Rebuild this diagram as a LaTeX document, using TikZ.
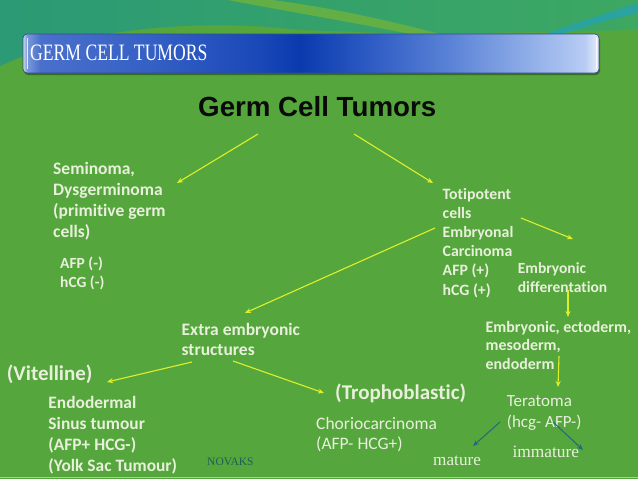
\documentclass[tikz,border=0pt]{standalone}
\usepackage{fontspec}
\setmainfont[Ligatures=NoCommon]{Carlito}
\newfontfamily\arialfont{Liberation Sans}
\newfontfamily\timesfont{Liberation Serif}
\newfontfamily\titlefont[FakeStretch=0.75]{Liberation Serif}
\usetikzlibrary{arrows.meta}
\definecolor{bggreen}{HTML}{55A63C}
\definecolor{tealL}{HTML}{2B9A75}
\definecolor{tealR}{HTML}{3DA862}
\definecolor{swoosh}{HTML}{63AF45}
\definecolor{bluestripe}{HTML}{2AA3A0}
\definecolor{txt}{HTML}{E8F0DC}
\definecolor{arrowyellow}{HTML}{DDF02A}
\definecolor{arrowteal}{HTML}{1F6A80}
\definecolor{novak}{HTML}{1D5F58}
\definecolor{tbA}{HTML}{CDD6EE}
\definecolor{tbB}{HTML}{7A98DA}
\definecolor{tbC}{HTML}{4A70CC}
\definecolor{tbD}{HTML}{3560C4}
\definecolor{tbE}{HTML}{1A48B8}
\definecolor{tbF}{HTML}{0A3AAE}
\definecolor{tbG}{HTML}{2A58C2}
\definecolor{tbH}{HTML}{5A82D6}
\definecolor{tbI}{HTML}{90AEE8}
\definecolor{tbJ}{HTML}{B8CCF4}
\definecolor{tbK}{HTML}{E8EEFA}
\pgfdeclarehorizontalshading{titlebarshade}{100bp}{color(0bp)=(tbA); color(25bp)=(tbA); color(25.35bp)=(tbB); color(26.5bp)=(tbC); color(36bp)=(tbD); color(45.5bp)=(tbE); color(49bp)=(tbF); color(54.5bp)=(tbG); color(62bp)=(tbH); color(69bp)=(tbI); color(73.75bp)=(tbJ); color(75bp)=(tbK); color(100bp)=(tbK)}
\tikzset{
  lbl/.style={anchor=base west, inner sep=0pt, text=txt, align=left},
  yarrow/.style={draw=arrowyellow, line width=1.1pt, -{Stealth[length=6pt,width=5pt]}},
  tarrow/.style={draw=arrowteal, line width=1pt, -{Stealth[length=6pt,width=5pt]}},
}
\begin{document}
\begin{tikzpicture}[x=1pt,y=-1pt]
\useasboundingbox (0,0) rectangle (638,479);
% background
\fill[bggreen] (0,0) rectangle (638,479);
\shade[left color=tealL, right color=tealR] (0,0) -- (638,0) -- (638,30) -- (420,34) -- (300,30) .. controls (200,18) and (80,28) .. (0,66) -- cycle;
\fill[swoosh] (228,0) .. controls (280,10) and (340,20) .. (410,34) -- (440,34) .. controls (380,18) and (320,6) .. (272,0) -- cycle;
\fill[bluestripe] (638,3) .. controls (600,15) and (570,25) .. (545,34) -- (562,34) .. controls (590,25) and (615,18) .. (638,13) -- cycle;
\draw[color={rgb,255:red,168;green,208;blue,144}, line width=1pt] (0,477) -- (638,477);
% title bar
\fill[black, opacity=0.35, rounded corners=4pt] (24,36) rectangle (600,75);
\shade[shading=titlebarshade, rounded corners=4pt] (23,34) rectangle (599,73);
\draw[color={rgb,255:red,50;green,80;blue,130}, line width=0.7pt, rounded corners=4pt] (23,34) rectangle (599,73);
\draw[white, opacity=0.8, line width=1.2pt] (27.5,38) -- (27.5,69);
\draw[white, opacity=0.8, line width=1.2pt] (596.5,38) -- (596.5,69);
\node[anchor=base west, inner sep=0pt, text=white, font={\titlefont\fontsize{23.5}{26}\selectfont}] (bartitle) at (30,60) {GERM CELL TUMORS};
% main title
\node[anchor=base west, inner sep=0pt, text={rgb,255:red,10;green,10;blue,10}, font={\arialfont\bfseries\fontsize{27.7}{32}\selectfont}] (main) at (198,116.7) {Germ Cell Tumors};
% labels (base = baseline of the last line)
\node[lbl, font={\bfseries\fontsize{17.5}{21.2}\selectfont}] (sem) at (53,237.7) {Seminoma,\\Dysgerminoma\\(primitive germ\\cells)};
\node[lbl, font={\bfseries\fontsize{15.5}{19.7}\selectfont}] (semm) at (60,287.7) {AFP (-)\\hCG (-)};
\node[lbl, font={\bfseries\fontsize{15.8}{19.1}\selectfont}] (toti) at (442.5,295) {Totipotent\\cells\\Embryonal\\Carcinoma\\AFP (+)\\hCG (+)};
\node[lbl, font={\bfseries\fontsize{15.5}{19}\selectfont}] (embd) at (517.7,292.3) {Embryonic\\differentation};
\node[lbl, font={\bfseries\fontsize{17.5}{20}\selectfont}] (extra) at (181.5,355) {Extra embryonic\\structures};
\node[lbl, font={\bfseries\fontsize{21}{24}\selectfont}] (vit) at (6.7,380) {(Vitelline)};
\node[lbl, font={\bfseries\fontsize{17.4}{21.1}\selectfont}] (endo) at (48.3,471.7) {Endodermal\\Sinus tumour\\(AFP+ HCG-)\\(Yolk Sac Tumour)};
\node[lbl, font={\bfseries\fontsize{21}{24}\selectfont}] (troph) at (335,399) {(Trophoblastic)};
\node[lbl, font={\fontsize{17.5}{20}\selectfont}] (chorio) at (316,449) {Choriocarcinoma\\(AFP- HCG+)};
\node[lbl, font={\bfseries\fontsize{15.9}{18.5}\selectfont}] (ecto) at (485.5,369.3) {Embryonic, ectoderm,\\mesoderm,\\endoderm};
\node[lbl, font={\fontsize{17}{21.7}\selectfont}] (tera) at (506.7,427.7) {Teratoma\\(hcg- AFP-)};
\node[lbl, font={\timesfont\fontsize{17.2}{20}\selectfont}] (mature) at (433,465) {mature};
\node[lbl, font={\timesfont\fontsize{17.4}{20}\selectfont}] (immature) at (512.3,457) {immature};
\node[anchor=base west, inner sep=0pt, text=novak, font={\timesfont\fontsize{11.5}{13}\selectfont}] (novaks) at (207,465.7) {NOVAKS};
% arrow end points
\coordinate (a1s) at (258,134); \coordinate (a1e) at (177,183);
\coordinate (a2s) at (354,134); \coordinate (a2e) at (433,183);
\coordinate (a3s) at (521,218); \coordinate (a3e) at (573,239);
\coordinate (a4s) at (435,228); \coordinate (a4e) at (245,313);
\coordinate (a5s) at (568,290); \coordinate (a5e) at (568,317);
\coordinate (a6s) at (559,356); \coordinate (a6e) at (558,387);
\coordinate (a7s) at (192,362); \coordinate (a7e) at (107,382);
\coordinate (a8s) at (233,361); \coordinate (a8e) at (324,393);
\coordinate (a9s) at (500,422); \coordinate (a9e) at (473,446);
\coordinate (a10s) at (553,422); \coordinate (a10e) at (583,450);
\draw[yarrow] (a1s) -- (a1e);
\draw[yarrow] (a2s) -- (a2e);
\draw[yarrow] (a3s) -- (a3e);
\draw[yarrow] (a4s) -- (a4e);
\draw[yarrow] (a5s) -- (a5e);
\draw[yarrow] (a6s) -- (a6e);
\draw[yarrow] (a7s) -- (a7e);
\draw[yarrow] (a8s) -- (a8e);
\draw[tarrow] (a9s) -- (a9e);
\draw[tarrow] (a10s) -- (a10e);
\end{tikzpicture}
\end{document}
